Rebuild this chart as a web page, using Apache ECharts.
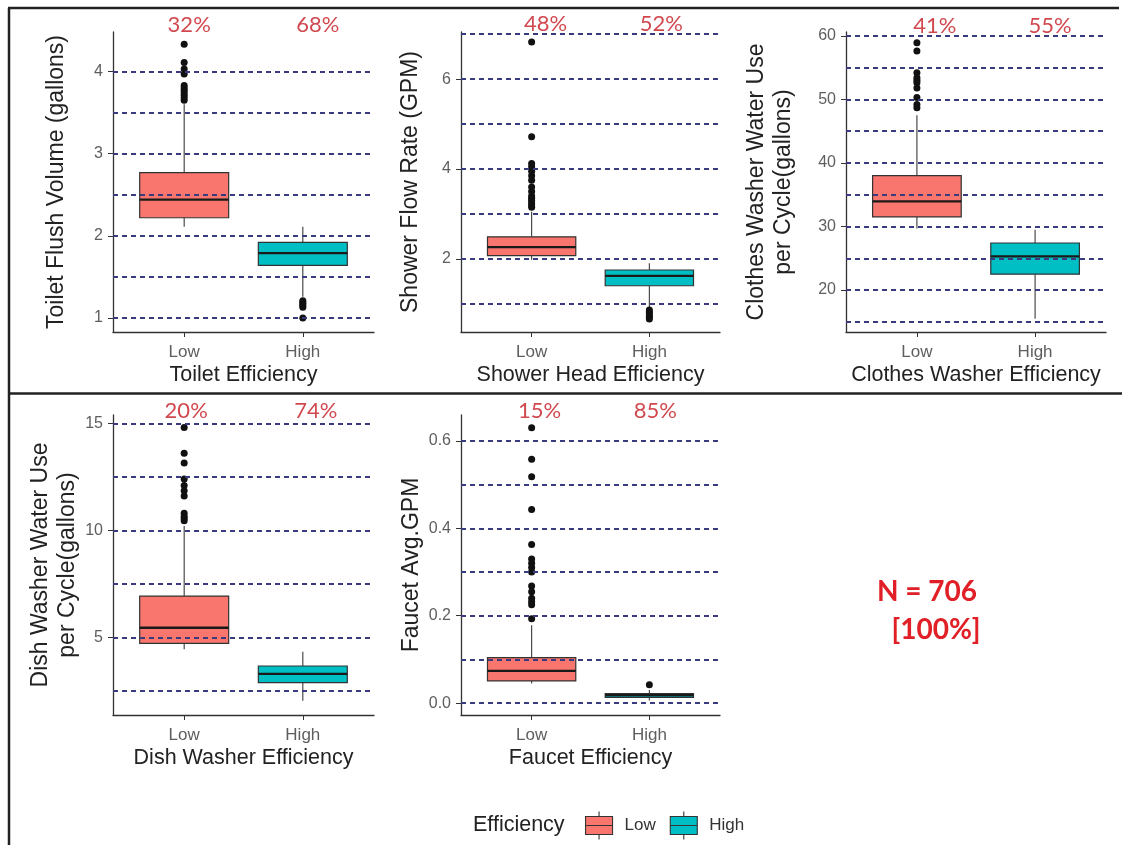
<!DOCTYPE html>
<html>
<head>
<meta charset="utf-8">
<script src="https://cdn.jsdelivr.net/npm/echarts@6/dist/echarts.min.js"></script>
<style>
  html, body { margin: 0; padding: 0; background: #fff; }
  #chart { width: 1122px; height: 845px; }
</style>
</head>
<body>
<div id="chart"></div>
<script>
// Efficiency groups shown on every x axis
const categories = ['Low', 'High'];

// Box summaries: [lower whisker, Q1, median, Q3, upper whisker]
const toiletLow = [2.11, 2.22, 2.44, 2.77, 3.60];
const toiletHigh = [1.26, 1.64, 1.79, 1.92, 2.11];
const toiletLowOutliers = [3.65, 3.68, 3.71, 3.74, 3.77, 3.80, 3.83, 3.97, 4.03, 4.11, 4.33];
const toiletHighOutliers = [1.00, 1.13, 1.15, 1.17, 1.19, 1.21];
const toiletShare = ['32%', '68%'];
const toiletRefLines = [1, 1.5, 2, 2.5, 3, 3.5, 4];
const toiletTicks = [1, 2, 3, 4];
const toiletRange = [0.83, 4.48];

const showerLow = [1.98, 2.07, 2.26, 2.49, 3.05];
const showerHigh = [0.92, 1.40, 1.62, 1.75, 1.90];
const showerLowOutliers = [3.15, 3.20, 3.25, 3.30, 3.35, 3.40, 3.50, 3.60, 3.75, 3.85, 3.95, 4.05, 4.12, 4.72, 6.83];
const showerHighOutliers = [0.66, 0.70, 0.74, 0.78, 0.82, 0.86];
const showerShare = ['48%', '52%'];
const showerRefLines = [1, 2, 3, 4, 5, 6, 7];
const showerTicks = [2, 4, 6];
const showerRange = [0.37, 7.05];

const clothesLow = [29.7, 31.5, 33.95, 38.0, 47.5];
const clothesHigh = [15.5, 22.5, 25.3, 27.4, 29.5];
const clothesLowOutliers = [48.7, 49.2, 50.3, 51.8, 52.6, 53.0, 53.4, 54.2, 57.6, 58.9];
const clothesHighOutliers = [];
const clothesShare = ['41%', '55%'];
const clothesRefLines = [15, 20, 25, 30, 35, 40, 45, 50, 55, 60];
const clothesTicks = [20, 30, 40, 50, 60];
const clothesRange = [13.4, 60.6];

const dishLow = [4.44, 4.72, 5.45, 6.93, 10.2];
const dishHigh = [2.04, 2.88, 3.29, 3.66, 4.33];
const dishLowOutliers = [10.45, 10.55, 10.65, 10.8, 11.6, 11.85, 12.1, 12.4, 13.15, 13.6, 14.8];
const dishHighOutliers = [];
const dishShare = ['20%', '74%'];
const dishRefLines = [2.5, 5, 7.5, 10, 12.5, 15];
const dishTicks = [5, 10, 15];
const dishRange = [1.37, 15.39];

const faucetLow = [0.045, 0.051, 0.074, 0.104, 0.178];
const faucetHigh = [0.006, 0.013, 0.018, 0.022, 0.030];
const faucetLowOutliers = [0.193, 0.225, 0.232, 0.240, 0.255, 0.268, 0.300, 0.310, 0.320, 0.330, 0.363, 0.443, 0.518, 0.558, 0.630];
const faucetHighOutliers = [0.042];
const faucetShare = ['15%', '85%'];
const faucetRefLines = [0, 0.1, 0.2, 0.3, 0.4, 0.5, 0.6];
const faucetTicks = [0, 0.2, 0.4, 0.6];
const faucetRange = [-0.027, 0.659];

const sampleSize = 706;
const sampleShare = '100%';
const legendTitle = 'Efficiency';

const FONT = '"Liberation Sans", Arial, sans-serif';
const LOW_FILL = '#F8766D';
const HIGH_FILL = '#00BFC4';
const BOX_WIDTH = 0.75;           // in category units, like geom_boxplot
const EDGE = '#333333';
const REF_COLOR = '#3a3a7e';
const SHARE_RED = '#c41a22';

const panels = [
  { low: toiletLow, high: toiletHigh, lowOut: toiletLowOutliers, highOut: toiletHighOutliers,
    share: toiletShare, refs: toiletRefLines, ticks: toiletTicks, range: toiletRange, decimals: 0,
    xName: 'Toilet Efficiency', yName: 'Toilet Flush Volume (gallons)',
    grid: { left: 113, top: 32, width: 261, height: 300 }, yNameGap: 43,
    shareShift: [[5, -7], [15, -7]] },
  { low: showerLow, high: showerHigh, lowOut: showerLowOutliers, highOut: showerHighOutliers,
    share: showerShare, refs: showerRefLines, ticks: showerTicks, range: showerRange, decimals: 0,
    xName: 'Shower Head Efficiency', yName: 'Shower Flow Rate (GPM)',
    grid: { left: 461, top: 32, width: 259, height: 300 }, yNameGap: 37,
    shareShift: [[14, -8], [12, -8]] },
  { low: clothesLow, high: clothesHigh, lowOut: clothesLowOutliers, highOut: clothesHighOutliers,
    share: clothesShare, refs: clothesRefLines, ticks: clothesTicks, range: clothesRange, decimals: 0,
    xName: 'Clothes Washer Efficiency', yName: 'Clothes Washer Water Use\nper Cycle(gallons)',
    grid: { left: 846, top: 32, width: 260, height: 300 }, yNameGap: 49,
    shareShift: [[18, -6], [15, -6]] },
  { low: dishLow, high: dishHigh, lowOut: dishLowOutliers, highOut: dishHighOutliers,
    share: dishShare, refs: dishRefLines, ticks: dishTicks, range: dishRange, decimals: 0,
    xName: 'Dish Washer Efficiency', yName: 'Dish Washer Water Use\nper Cycle(gallons)',
    grid: { left: 113, top: 415, width: 261, height: 300 }, yNameGap: 30,
    shareShift: [[2, -4], [13, -4]] },
  { low: faucetLow, high: faucetHigh, lowOut: faucetLowOutliers, highOut: faucetHighOutliers,
    share: faucetShare, refs: faucetRefLines, ticks: faucetTicks, range: faucetRange, decimals: 1,
    xName: 'Faucet Efficiency', yName: 'Faucet Avg.GPM',
    grid: { left: 461, top: 415, width: 259, height: 300 }, yNameGap: 36,
    shareShift: [[8, -4], [6, -4]] }
];

// ggplot-style box: no whisker caps, thicker median bar
function renderBox(params, api) {
  const x = api.value(0);
  const lo = api.coord([x, api.value(1)]);
  const q1 = api.coord([x, api.value(2)]);
  const med = api.coord([x, api.value(3)]);
  const q3 = api.coord([x, api.value(4)]);
  const hi = api.coord([x, api.value(5)]);
  const half = api.size([BOX_WIDTH, 0])[0] / 2;
  const fill = api.visual('color');
  const thin = { stroke: '#3a3a3a', lineWidth: 1.1 };
  return {
    type: 'group',
    children: [
      { type: 'line', shape: { x1: lo[0], y1: lo[1], x2: q1[0], y2: q1[1] }, style: thin },
      { type: 'line', shape: { x1: q3[0], y1: q3[1], x2: hi[0], y2: hi[1] }, style: thin },
      { type: 'rect', shape: { x: q3[0] - half, y: q3[1], width: half * 2, height: q1[1] - q3[1] },
        style: { fill: fill, stroke: EDGE, lineWidth: 1.2 } },
      { type: 'line', shape: { x1: med[0] - half, y1: med[1], x2: med[0] + half, y2: med[1] },
        style: { stroke: '#1a1a1a', lineWidth: 2.4 } }
    ]
  };
}

const option = {
  animation: false,
  backgroundColor: '#ffffff',
  textStyle: { fontFamily: FONT },
  grid: [], xAxis: [], yAxis: [], series: [],
  legend: {
    data: categories.map(c => ({
      name: c,
      icon: 'path://M13.5,0V5M0,5H27V23H0ZM0,14H27M13.5,23V28'
    })),
    left: 585, top: 811, padding: 0,
    itemWidth: 27, itemHeight: 28, itemGap: 14,
    selectedMode: false,
    itemStyle: { borderColor: EDGE, borderWidth: 1.1 },
    textStyle: { fontFamily: FONT, fontSize: 17, color: '#333', padding: [0, 0, 0, 7] }
  },
  graphic: [
    { type: 'line', shape: { x1: 8, y1: 8, x2: 1119, y2: 8 }, style: { stroke: '#222', lineWidth: 2.5 }, z: 100 },
    { type: 'line', shape: { x1: 9, y1: 8, x2: 9, y2: 845 }, style: { stroke: '#222', lineWidth: 2.5 }, z: 100 },
    { type: 'line', shape: { x1: 8, y1: 393.5, x2: 1122, y2: 393.5 }, style: { stroke: '#222', lineWidth: 2.5 }, z: 100 },
    { type: 'text', x: 927, y: 592, z: 100,
      style: { text: 'N = ' + sampleSize, font: 'bold 28px Lato', fill: '#e01f26',
               align: 'center', textAlign: 'center', verticalAlign: 'middle', textVerticalAlign: 'middle' } },
    { type: 'text', x: 936, y: 630, z: 100,
      style: { text: '[' + sampleShare + ']', font: 'bold 28px Lato', fill: '#e01f26',
               align: 'center', textAlign: 'center', verticalAlign: 'middle', textVerticalAlign: 'middle' } },
    { type: 'text', x: 473, y: 825, z: 100,
      style: { text: legendTitle, font: '21.5px "Liberation Sans"', fill: '#222',
               align: 'left', textAlign: 'left', verticalAlign: 'middle', textVerticalAlign: 'middle' } }
  ]
};

panels.forEach((p, i) => {
  option.grid.push(Object.assign({ containLabel: false, outerBoundsMode: 'none' }, p.grid));

  option.xAxis.push({
    type: 'value', gridIndex: i, min: 0.4, max: 2.6,
    name: p.xName, nameLocation: 'middle', nameGap: 32,
    nameTextStyle: { fontFamily: FONT, fontSize: 21.5, color: '#222' },
    axisLine: { show: true, onZero: false, lineStyle: { color: EDGE, width: 1.3 } },
    axisTick: { show: true, length: 5, customValues: [1, 2], lineStyle: { color: EDGE } },
    axisLabel: { customValues: [1, 2], formatter: v => categories[Math.round(v) - 1],
                 margin: 12, fontSize: 17, color: '#5e5e5e', fontFamily: FONT },
    splitLine: { show: false }
  });

  option.yAxis.push({
    type: 'value', gridIndex: i, min: p.range[0], max: p.range[1],
    name: p.yName, nameLocation: 'middle', nameGap: p.yNameGap, nameRotate: 90,
    nameTextStyle: { fontFamily: FONT, fontSize: 23, color: '#222', lineHeight: 27 },
    axisLine: { show: true, onZero: false, lineStyle: { color: EDGE, width: 1.3 } },
    axisTick: { show: true, length: 5, customValues: p.ticks, lineStyle: { color: EDGE } },
    axisLabel: { customValues: p.ticks, formatter: v => v.toFixed(p.decimals),
                 margin: 10, fontSize: 16, color: '#5e5e5e', fontFamily: FONT },
    splitLine: { show: false }
  });

  // dashed horizontal reference lines
  option.series.push({
    type: 'line', name: 'reference', xAxisIndex: i, yAxisIndex: i, data: [], z: 1, silent: true,
    markLine: {
      silent: true, symbol: ['none', 'none'], label: { show: false },
      emphasis: { disabled: true },
      lineStyle: { type: [5, 4], color: REF_COLOR, width: 1.8 },
      data: p.refs.map(v => ({ yAxis: v }))
    }
  });

  // boxes, one series per efficiency group
  [[categories[0], p.low, LOW_FILL], [categories[1], p.high, HIGH_FILL]].forEach(([name, stats, fill]) => {
    option.series.push({
      type: 'custom', name: name, xAxisIndex: i, yAxisIndex: i, z: 3, silent: true,
      itemStyle: { color: fill },
      renderItem: renderBox,
      encode: { x: 0, y: [1, 2, 3, 4, 5] },
      data: [[categories.indexOf(name) + 1].concat(stats)]
    });
  });

  // outliers
  option.series.push({
    type: 'scatter', name: 'outliers', xAxisIndex: i, yAxisIndex: i, z: 4, silent: true,
    symbolSize: 7, itemStyle: { color: '#111111', opacity: 1 },
    data: p.lowOut.map(v => [1, v]).concat(p.highOut.map(v => [2, v]))
  });

  // share of homes in each group, above the panel
  option.series.push({
    type: 'scatter', name: 'share', xAxisIndex: i, yAxisIndex: i, z: 5, silent: true, clip: false,
    symbolSize: 1, itemStyle: { color: 'transparent' },
    data: p.share.map((s, k) => ({
      value: [k + 1, p.range[1]],
      label: { formatter: s, offset: p.shareShift[k] }
    })),
    label: { show: true, position: 'inside', fontFamily: 'Lato', fontSize: 22, color: SHARE_RED }
  });
});

const chart = echarts.init(document.getElementById('chart'), null, { renderer: 'canvas' });
chart.setOption(option);
</script>
</body>
</html>
